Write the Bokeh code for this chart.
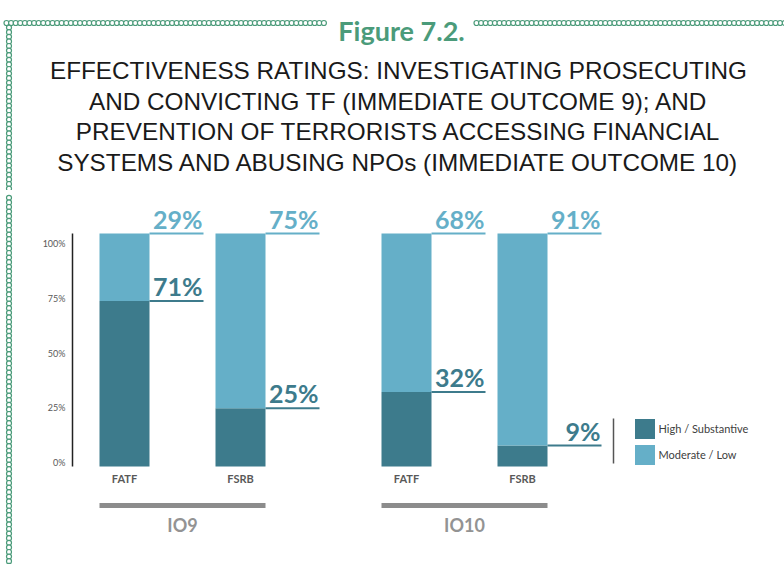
import numpy as np
from bokeh.plotting import figure
from bokeh.layouts import column, row
from bokeh.models import (FactorRange, Range1d, ColumnDataSource, Label, Legend,
                          LegendItem)
from bokeh.core.properties import value
from bokeh.embed import file_html
from bokeh.resources import INLINE

# ---------------- data ----------------
groups = ["IO9", "IO9", "IO10", "IO10"]
bodies = ["FATF", "FSRB", "FATF", "FSRB"]
high_substantive = [71, 25, 32, 9]
moderate_low = [29, 75, 68, 91]
series_names = ["High / Substantive", "Moderate / Low"]
y_ticks = [0, 25, 50, 75, 100]
y_tick_labels = ["0%", "25%", "50%", "75%", "100%"]
group_names = ["IO9", "IO10"]
figure_label = "Figure 7.2."
title_lines = [
    "EFFECTIVENESS RATINGS: INVESTIGATING PROSECUTING",
    "AND CONVICTING TF (IMMEDIATE OUTCOME 9); AND",
    "PREVENTION OF TERRORISTS ACCESSING FINANCIAL",
    "SYSTEMS AND ABUSING NPOs (IMMEDIATE OUTCOME 10)",
]

# ---------------- style / layout ----------------
W, H = 784, 564
TOP_H = 190                 # height of the heading strip
STRIP_W = 16                # left decorative strip
BARS_W = 614                # chart panel
LEG_W = W - STRIP_W - BARS_W
LOW_H = H - TOP_H

DARK = "#3d7b8c"
LIGHT = "#65afc8"
GREEN = "#4b9b7a"
TXT = "#595959"
RULE = "#8c8c8c"
FONT = "Lato"

PX_X = 104.0                      # pixels per category unit
FACTOR_PAD = 116 / PX_X - 1       # spacing between bars in a group
GROUP_PAD = 166 / PX_X - 1        # spacing between groups
RANGE_PAD = 108 / PX_X - 0.5
BAR_W = 50 / PX_X
LEADER = 54 / PX_X
PX_Y = 2.33                       # pixels per percent
ZERO_Y = 466                      # page y of 0 %
LAB_PX_Y = 2.19                   # axis labels scale
LAB_ZERO_Y = 462


def bare(fig):
    fig.min_border_left = fig.min_border_right = 0
    fig.min_border_top = fig.min_border_bottom = 0
    fig.title.visible = False
    fig.outline_line_color = None
    fig.grid.visible = False
    fig.background_fill_color = "white"
    fig.border_fill_color = "white"
    return fig


def chain(fig, xs, ys):
    fig.scatter(x=xs, y=ys, marker="circle", size=5, fill_color="white",
                line_color=GREEN, line_width=1.2)


# ---------------- heading ----------------
top = bare(figure(width=W, height=TOP_H, x_range=Range1d(0, W),
                  y_range=Range1d(TOP_H, 0), output_backend="svg",
                  toolbar_location=None, x_axis_location=None,
                  y_axis_location=None))
cx = np.arange(6, 326, 4.6)
chain(top, cx, np.full(len(cx), 22.5))
cx2 = np.arange(476, W + 4, 4.6)
chain(top, cx2, np.full(len(cx2), 22.5))
cy = np.arange(27.1, TOP_H + 3, 4.6)
chain(top, np.full(len(cy), 8.5), cy)

top.add_layout(Label(x=401, y=30, text=figure_label, text_font=FONT,
                     text_font_style="bold", text_font_size="27px",
                     text_color=GREEN, text_align="center",
                     text_baseline="alphabetic"))
for i, line in enumerate(title_lines):
    top.add_layout(Label(x=398, y=70 + 30.5 * i, text=line,
                         text_font="Liberation Sans", text_font_size="24.3px",
                         text_color="#1a1a1a", text_align="center",
                         text_baseline="middle"))

# ---------------- left strip ----------------
strip = bare(figure(width=STRIP_W, height=LOW_H, x_range=Range1d(0, STRIP_W),
                    y_range=Range1d(H, TOP_H), output_backend="svg",
                    toolbar_location=None, x_axis_location=None,
                    y_axis_location=None))
sy = np.arange(cy[-1] + 4.6, H + 4, 4.6)
chain(strip, np.full(len(sy), 8.5), sy)

# ---------------- bars ----------------
factors = list(zip(groups, bodies))
x_range = FactorRange(factors=factors, factor_padding=FACTOR_PAD,
                      group_padding=GROUP_PAD, range_padding=RANGE_PAD,
                      range_padding_units="absolute")
p = bare(figure(width=BARS_W, height=LOW_H, x_range=x_range,
                y_range=Range1d(-(H - ZERO_Y) / PX_Y, (ZERO_Y - TOP_H) / PX_Y),
                output_backend="svg", toolbar_location=None,
                x_axis_location=None, y_axis_location=None))
p.extra_y_ranges = {"lab": Range1d(-(H - LAB_ZERO_Y) / LAB_PX_Y,
                                   (LAB_ZERO_Y - TOP_H) / LAB_PX_Y)}

src = ColumnDataSource(dict(x=factors, high=high_substantive, moderate=moderate_low))
rs = p.vbar_stack(["high", "moderate"], x="x", width=BAR_W, source=src,
                  fill_color=[DARK, LIGHT], line_color=None)

half = BAR_W / 2
lx0, lx1, ly, ltxt, lcol = [], [], [], [], []
for g, b, hv, mv in zip(groups, bodies, high_substantive, moderate_low):
    for level, v, c in ((hv, hv, DARK), (hv + mv, mv, LIGHT)):
        lx0.append((g, b, half))
        lx1.append((g, b, half + LEADER))
        ly.append(level)
        ltxt.append(f"{v}%")
        lcol.append(c)
lsrc = ColumnDataSource(dict(x0=lx0, x1=lx1, y=ly, t=ltxt, c=lcol))
p.segment(x0="x0", x1="x1", y0="y", y1="y", source=lsrc, line_color="c",
          line_width=2)
p.text(x="x1", y="y", text="t", source=lsrc, text_color="c",
       text_font=value(FONT), text_font_style="bold", text_font_size="25px",
       text_align="right", text_baseline="bottom", x_offset=-1, y_offset=0)

# y axis
ax_x = (groups[0], bodies[0], -0.5)
p.segment(x0=[ax_x], x1=[ax_x], y0=[y_ticks[0]], y1=[y_ticks[-1]],
          line_color="#222222", line_width=1.5)
p.text(x=[ax_x] * len(y_ticks), y=y_ticks, text=y_tick_labels, y_range_name="lab",
       text_font=value(FONT), text_font_size="9px", text_color=TXT,
       text_align="right", text_baseline="middle", x_offset=-7)

# category labels
p.text(x=factors, y=[-(478 - ZERO_Y) / PX_Y] * len(factors), text=bodies,
       text_font=value(FONT), text_font_style="bold", text_font_size="11px",
       text_color=TXT, text_align="center", text_baseline="middle")

# group rules and names
gx0, gx1 = [], []
for gname in group_names:
    members = [b for g, b in factors if g == gname]
    gx0.append((gname, members[0], -half))
    gx1.append((gname, members[-1], half))
rule_y = -(505 - ZERO_Y) / PX_Y
p.segment(x0=gx0, x1=gx1, y0=[rule_y] * 2, y1=[rule_y] * 2, line_color=RULE,
          line_width=5, line_cap="butt")
p.text(x=group_names, y=[-(524 - ZERO_Y) / PX_Y] * 2, text=group_names,
       text_font=value(FONT), text_font_style="bold", text_font_size="18px",
       text_color="#939393", text_align="center", text_baseline="middle")

# legend divider
div_x = (groups[-1], bodies[-1], 91 / PX_X)
p.segment(x0=[div_x], x1=[div_x], y0=[(ZERO_Y - 463) / PX_Y],
          y1=[(ZERO_Y - 418) / PX_Y], line_color="#555555", line_width=1.5)

# ---------------- legend panel ----------------
lg = bare(figure(width=LEG_W, height=LOW_H, x_range=Range1d(0, 1),
                 y_range=Range1d(0, 1), output_backend="svg",
                 toolbar_location=None, x_axis_location=None,
                 y_axis_location=None))
# proxy renderers (kept outside the visible range) that carry the legend swatches
d0 = lg.vbar(x=[10], top=[10], bottom=[9], width=1, fill_color=DARK, line_color=None)
d1 = lg.vbar(x=[10], top=[10], bottom=[9], width=1, fill_color=LIGHT, line_color=None)
legend = Legend(items=[LegendItem(label=series_names[0], renderers=[d0]),
                       LegendItem(label=series_names[1], renderers=[d1])],
                location=(1.5, H - 466.5), orientation="vertical",
                glyph_width=25, glyph_height=25, label_height=25,
                label_standoff=2, spacing=1, padding=0, margin=0,
                border_line_color=None, background_fill_alpha=0,
                label_text_font=FONT, label_text_font_size="11px",
                label_text_color="#404040", label_text_baseline="middle")
lg.add_layout(legend, "center")

layout = column(top, row(strip, p, lg, spacing=0), spacing=0)
open("out.html", "w").write(file_html(layout, INLINE))
